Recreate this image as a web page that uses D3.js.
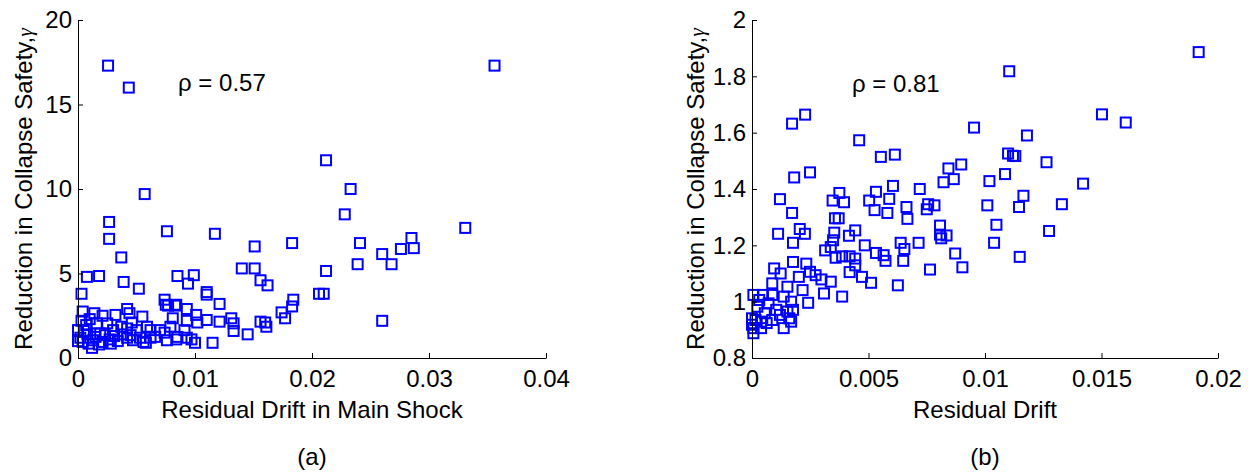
<!DOCTYPE html>
<html>
<head>
<meta charset="utf-8">
<script src="https://cdn.jsdelivr.net/npm/d3@7"></script>
<style>
  body { margin: 0; background: #fff; }
  svg { display: block; }
  text { font-family: Arial, "Liberation Sans", sans-serif; }
</style>
</head>
<body>
<div id="chart"></div>
<script>
// panel (a): residual drift in main shock vs reduction in collapse safety
var leftDrift = [0.00257, 0.00434, 0.0356, 0.0212, 0.0233, 0.0228, 0.0057, 0.00266, 0.00266, 0.0076,
  0.0117, 0.0151, 0.0183, 0.0241, 0.0331, 0.0285, 0.0287, 0.0276, 0.026, 0.0268,
  0.0239, 0.0212, 0.0037, 0.0039, 0.0052, 0.00076, 0.0018, 0.0003, 0.0085, 0.0099,
  0.0094, 0.014, 0.0151, 0.0156, 0.0162, 0.011, 0.011, 0.0121, 0.0074, 0.0075,
  0.0083, 0.0093, 0.0206, 0.021, 0.0184, 0.0183, 0.0174, 0.0177, 0.026, 0.0004,
  0.0014, 0.0021, 0.0032, 0.0042, 0.0044, 0.0055, 0.0077, 0.0084, 0.0081, 0.0093,
  0.0101, 0.0102, 0.011, 0.0121, 0.0131, 0.0133, 0.0133, 0.0145, 0.0156, 0.016,
  0.0161, 0.0115, 0.01, 0.0079, 0.0091, 0.0085, 0.007, 0.0074, 0.0058, 0.0012,
  0.0019, 0.003, 0.0042, 0.005, 0.0062, 0.0066, 0.0053, 0.0042, 0.0027, 0.0002,
  0.0, 0.0007, 0.0016, 0.0025, 0.0037, 0.0046, 0.0059, 0.0, 0.0004, 0.0013,
  0.0021, 0.0034, 0.0047, 0.0056, 0.0062, 0.0076, 0.0084, 0.0093, 0.0097, 0.0008,
  0.0015, 0.0023, 0.0031, 0.0038, 0.0045, 0.0009, 0.0018, 0.0028, 0.0005, 0.0003, 0.001];
var leftGamma = [17.3, 16.0, 17.3, 11.7, 10.0, 8.5, 9.7, 8.05, 7.05, 7.5,
  7.35, 6.6, 6.8, 6.8, 7.7, 7.1, 6.5, 6.45, 6.15, 5.55,
  5.55, 5.15, 5.95, 4.5, 4.1, 4.8, 4.85, 3.8, 4.85, 4.9,
  4.4, 5.3, 5.3, 4.6, 4.3, 3.9, 3.75, 3.2, 3.45, 3.15,
  3.1, 2.9, 3.8, 3.8, 3.45, 3.05, 2.7, 2.35, 2.2, 2.75,
  2.65, 2.5, 2.55, 2.9, 2.65, 2.45, 3.1, 3.15, 2.35, 2.2,
  2.55, 2.1, 2.25, 2.15, 2.35, 2.05, 1.6, 1.4, 2.15, 2.1,
  1.85, 0.9, 0.9, 1.85, 1.65, 1.25, 1.65, 1.5, 0.9, 0.6,
  1.45, 1.65, 1.75, 1.65, 1.65, 1.25, 1.2, 1.2, 1.1, 1.2,
  1.65, 1.95, 2.05, 2.05, 1.85, 2.1, 1.85, 1.0, 0.95, 1.05,
  0.95, 1.0, 1.05, 0.95, 1.2, 1.05, 1.1, 1.2, 1.1, 1.4,
  1.25, 1.35, 1.3, 1.4, 1.35, 0.85, 0.8, 0.85, 1.6, 2.2, 2.3];

// panel (b): residual drift vs reduction in collapse safety
var rightDrift = [0.01917, 0.01104, 0.01502, 0.01604, 0.00228, 0.00172, 0.00953, 0.0118, 0.0046, 0.00613,
  0.00553, 0.01099, 0.0112, 0.0113, 0.01264, 0.00898, 0.00843, 0.00249, 0.00181, 0.01086,
  0.00866, 0.00822, 0.01019, 0.01421, 0.00605, 0.0072, 0.00375, 0.00532, 0.0012, 0.00346,
  0.00395, 0.00503, 0.00589, 0.01165, 0.00756, 0.00783, 0.0133, 0.0101, 0.01146, 0.00663,
  0.0075, 0.00526, 0.00581, 0.00172, 0.00356, 0.00372, 0.00667, 0.00807, 0.01049, 0.01275,
  0.00205, 0.00227, 0.00112, 0.00353, 0.00443, 0.00416, 0.00807, 0.00835, 0.00812, 0.00176,
  0.00348, 0.00638, 0.00715, 0.01039, 0.00484, 0.00338, 0.00314, 0.00654, 0.00532, 0.00565,
  0.00573, 0.00649, 0.00872, 0.01149, 0.00359, 0.00387, 0.00419, 0.00443, 0.00443, 0.00176,
  0.00233, 0.00764, 0.00903, 0.00419, 0.00472, 0.00511, 0.00626, 0.00387, 0.00095, 0.00123,
  0.00201, 0.00249, 0.00273, 0.00298, 0.00338, 0.00309, 0.00241, 0.00217, 0.00152, 0.00087,
  0.00006, 0.00047, 0.00087, 0.00136, 0.00168, 0.00071, 0.00023, 0.0, 0.00015, 0.00039,
  0.00063, 0.00006, 0.00039, 0.00006, 0.00087, 0.0012, 0.0016, 0.00136, 0.00168, 0.00104,
  0.00055, 0.00152, 0.00176, 0.00031, 0.0];
var rightGamma = [1.886, 1.818, 1.665, 1.636, 1.664, 1.632, 1.618, 1.59, 1.573, 1.522,
  1.514, 1.526, 1.518, 1.517, 1.495, 1.487, 1.473, 1.459, 1.441, 1.453,
  1.435, 1.424, 1.428, 1.419, 1.411, 1.4, 1.386, 1.39, 1.364, 1.359,
  1.353, 1.359, 1.365, 1.376, 1.346, 1.342, 1.346, 1.342, 1.336, 1.336,
  1.328, 1.325, 1.315, 1.315, 1.296, 1.296, 1.294, 1.27, 1.273, 1.251,
  1.258, 1.241, 1.241, 1.245, 1.253, 1.234, 1.238, 1.235, 1.225, 1.209,
  1.218, 1.209, 1.209, 1.209, 1.2, 1.194, 1.182, 1.187, 1.173, 1.165,
  1.145, 1.145, 1.171, 1.159, 1.156, 1.161, 1.161, 1.153, 1.129, 1.141,
  1.135, 1.114, 1.122, 1.105, 1.088, 1.067, 1.058, 1.018, 1.118, 1.1,
  1.088, 1.106, 1.094, 1.079, 1.071, 1.029, 0.996, 1.041, 1.053, 1.065,
  1.024, 1.024, 1.024, 1.018, 1.0, 0.994, 0.982, 0.941, 0.935, 0.929,
  0.924, 0.906, 0.906, 0.888, 0.935, 0.953, 0.941, 0.906, 0.929, 0.971,
  0.959, 0.965, 0.971, 1.006, 0.918];

var leftXTicks = [0, 0.01, 0.02, 0.03, 0.04];
var leftYTicks = [0, 5, 10, 15, 20];
var rightXTicks = [0, 0.005, 0.01, 0.015, 0.02];
var rightYTicks = [0.8, 1, 1.2, 1.4, 1.6, 1.8, 2];

var width = 1251, height = 473;
var svg = d3.select("#chart").append("svg")
    .attr("width", width)
    .attr("height", height);

function panel(opt) {
    var x = d3.scaleLinear().domain(opt.xDomain).range([opt.left, opt.right]);
    var y = d3.scaleLinear().domain(opt.yDomain).range([358, 20]);
    var fmt = function(d) { return String(d); };

    // points first so axes sit on top
    var pts = d3.range(opt.xs.length).map(function(i) { return [opt.xs[i], opt.ys[i]]; });
    svg.append("g").selectAll("rect")
        .data(pts)
        .enter().append("rect")
        .attr("x", function(d) { return x(d[0]) - 5; })
        .attr("y", function(d) { return y(d[1]) - 5; })
        .attr("width", 10)
        .attr("height", 10)
        .attr("fill", "none")
        .attr("stroke", "#0000ff")
        .attr("stroke-width", 2);

    // axes, matlab style ticks pointing in
    var gx = svg.append("g")
        .attr("transform", "translate(0,358)")
        .call(d3.axisBottom(x).tickValues(opt.xTicks).tickFormat(fmt)
            .tickSizeInner(-5).tickSizeOuter(0).tickPadding(12));
    var gy = svg.append("g")
        .attr("transform", "translate(" + opt.left + ",0)")
        .call(d3.axisLeft(y).tickValues(opt.yTicks).tickFormat(fmt)
            .tickSizeInner(-5).tickSizeOuter(0).tickPadding(6));
    [gx, gy].forEach(function(g) {
        g.selectAll("text").attr("font-size", 24).attr("fill", "#000")
            .attr("font-family", "Arial, 'Liberation Sans', sans-serif");
        g.selectAll("line").attr("stroke", "#000");
        g.select(".domain").attr("stroke", "#000");
    });

    // axis titles
    svg.append("text")
        .attr("x", (opt.left + opt.right) / 2)
        .attr("y", 418)
        .attr("text-anchor", "middle")
        .attr("font-size", 24)
        .text(opt.xLabel);

    var yl = svg.append("text")
        .attr("transform", "translate(" + opt.yLabelX + ",189) rotate(-90)")
        .attr("text-anchor", "middle")
        .attr("font-size", 24);
    yl.append("tspan").text("Reduction in Collapse Safety,");
    yl.append("tspan")
        .attr("font-family", "'Liberation Serif', 'DejaVu Serif', serif")
        .attr("font-style", "italic")
        .attr("font-size", 22)
        .text("\u03b3");

    // correlation note
    svg.append("text")
        .attr("x", x(opt.rhoAt[0]))
        .attr("y", y(opt.rhoAt[1]))
        .attr("font-size", 24)
        .text("\u03c1 = " + opt.rho);

    // caption
    svg.append("text")
        .attr("x", opt.captionX)
        .attr("y", 465)
        .attr("text-anchor", "middle")
        .attr("font-family", "'Liberation Serif', 'Times New Roman', serif")
        .attr("font-size", 24)
        .text(opt.caption);
}

panel({
    xs: leftDrift, ys: leftGamma,
    xDomain: [0, 0.04], yDomain: [0, 20],
    xTicks: leftXTicks, yTicks: leftYTicks,
    left: 78, right: 546,
    xLabel: "Residual Drift in Main Shock",
    yLabelX: 32,
    rho: "0.57", rhoAt: [0.00855, 15.8],
    caption: "(a)", captionX: 312
});

panel({
    xs: rightDrift, ys: rightGamma,
    xDomain: [0, 0.02], yDomain: [0.8, 2],
    xTicks: rightXTicks, yTicks: rightYTicks,
    left: 752, right: 1218,
    xLabel: "Residual Drift",
    yLabelX: 704,
    rho: "0.81", rhoAt: [0.00429, 1.744],
    caption: "(b)", captionX: 985
});
</script>
</body>
</html>
